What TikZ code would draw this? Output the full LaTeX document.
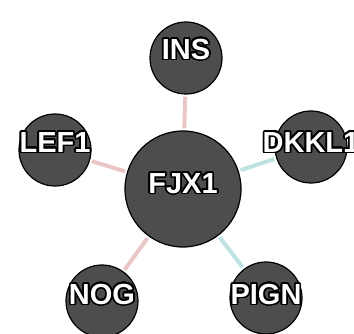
\documentclass[tikz,border=0pt]{standalone}
\usepackage{fontspec}
\setmainfont{Liberation Sans}
\usepackage{contour}
\contourlength{1.6pt}
\contournumber{32}

\definecolor{nodegray}{HTML}{4D4D4D}
\definecolor{linkpink}{HTML}{EBC6C6}
\definecolor{linkcyan}{HTML}{BEE2E2}

\newcommand{\genefont}{\fontsize{29}{32}\bfseries\selectfont}

\begin{document}
\begin{tikzpicture}[x=1pt,y=-1pt,
    gene/.style={circle,draw=black,line width=1.2pt,fill=nodegray,inner sep=0pt,
                 minimum size=72pt},
    genelabel/.style={inner sep=0pt,text=white,font=\genefont},
    link/.style={line width=4pt,shorten <=2pt,shorten >=2pt}]
    \useasboundingbox (0,0) rectangle (354,334);

    % Zentrum
    \node[gene,minimum size=116pt] (FJX1) at (183,189) {};
    \node[genelabel] (FJX1-label) at ([yshift=5pt]FJX1) {\contour{black}{FJX1}};

    % Nachbarn
    \foreach \name/\x/\y/\up in {INS/186/58/8,LEF1/55/150/7,DKKL1/311/147/4,NOG/102/301/6,PIGN/266/298/3} {
        \node[gene] (\name) at (\x,\y) {};
        \node[genelabel] (\name-label) at ([yshift=\up pt]\name) {\contour{black}{\name}};
    }

    % Verbindungen
    \foreach \name/\col in {INS/linkpink,LEF1/linkpink,NOG/linkpink,DKKL1/linkcyan,PIGN/linkcyan} {
        \draw[link,\col] (FJX1) -- (\name);
    }
\end{tikzpicture}
\end{document}
